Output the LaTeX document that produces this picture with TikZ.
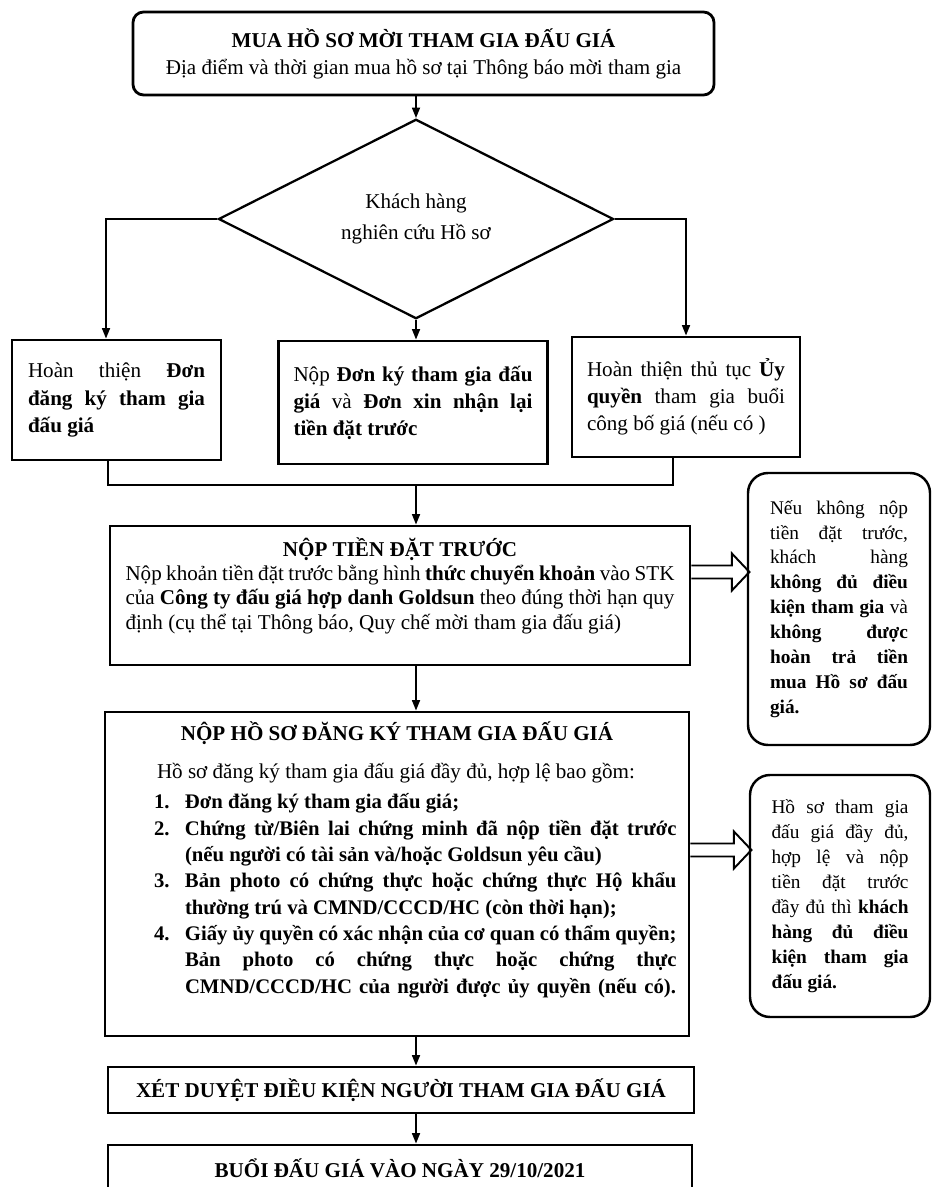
\documentclass[tikz,border=0pt]{standalone}
\usepackage{fontspec}
\setmainfont{Liberation Serif}
\usetikzlibrary{positioning, arrows.meta, shapes.geometric}
\tolerance=10000
\hbadness=10000

% one numbered line of the dossier list, with hanging indent
\newcommand{\hsitem}[2]{\par\noindent\hangindent=1.35cm\hangafter=1\hspace*{0.73cm}\makebox[0.62cm][l]{\textbf{#1}}\textbf{#2}}

\begin{document}
\begin{tikzpicture}[
  font=\fontsize{12}{15.4}\selectfont,
  blk/.style={rectangle, draw, line width=1.6pt, inner xsep=0.3cm, inner ysep=0pt},
  rblk/.style={blk, rounded corners=6pt, align=center},
  txtblk/.style={blk, align=justify},
  note/.style={rectangle, draw, line width=1.4pt, rounded corners=0.4cm, align=justify,
               inner sep=0pt, font=\fontsize{11}{14.2}\selectfont},
  arr/.style={-{Triangle[length=6pt,width=4.5pt]}, line width=1.1pt},
  link/.style={line width=1.5pt},
  hollow/.pic={\draw[line width=1.1pt, line join=miter]
     (0,0.13) -- ({#1-0.35},0.13) -- ({#1-0.35},0.37) -- (#1,0)
     -- ({#1-0.35},-0.37) -- ({#1-0.35},-0.13) -- (0,-0.13);},
]
\useasboundingbox (0,0) rectangle (18.64,-23.74);
\clip (0,0) rectangle (18.64,-23.74);

% ---- Top of the flow ----
\node[rblk, minimum width=11.62cm, minimum height=1.66cm] (buy) at (8.47,-1.07)
   {\textbf{MUA HỒ SƠ MỜI THAM GIA ĐẤU GIÁ}\\Địa điểm và thời gian mua hồ sơ tại Thông báo mời tham gia};

\node[diamond, draw, line width=1.3pt, minimum width=7.9cm, minimum height=2.98cm,
      inner sep=0pt, align=center] (dia) at (8.32,-4.38)
   {Khách hàng\\[2pt]nghiên cứu Hồ sơ};

% ---- Three options ----
\node[txtblk, minimum width=4.18cm, minimum height=2.4cm, text width=3.54cm] (b1) at (2.33,-8.0)
   {Hoàn thiện \textbf{Đơn}\linebreak \textbf{đăng ký tham gia}\linebreak \textbf{đấu giá}};
\node[txtblk, minimum width=5.36cm, minimum height=2.46cm, text width=4.78cm] (b2) at (8.26,-8.05)
   {Nộp \textbf{Đơn ký tham gia đấu}\linebreak \textbf{giá} và \textbf{Đơn xin nhận lại}\linebreak \textbf{tiền đặt trước}};
\node[txtblk, minimum width=4.56cm, minimum height=2.4cm, text width=3.96cm] (b3) at (13.72,-7.94)
   {Hoàn thiện thủ tục \textbf{Ủy}\linebreak \textbf{quyền} tham gia buổi\linebreak công bố giá (nếu có )};

% ---- Deposit ----
\node[txtblk, minimum width=11.6cm, minimum height=2.78cm, text width=10.98cm,
      font=\fontsize{12}{13.8}\selectfont] (tien) at (8.0,-11.91)
   {{\centering\textbf{NỘP TIỀN ĐẶT TRƯỚC}\par}
    Nộp khoản tiền đặt trước bằng hình \textbf{thức chuyển khoản} vào STK\linebreak
    của \textbf{Công ty đấu giá hợp danh Goldsun} theo đúng thời hạn quy\linebreak
    định (cụ thể tại Thông báo, Quy chế mời tham gia đấu giá)\par\rule{0pt}{1pt}};

% ---- Dossier ----
\node[txtblk, minimum width=11.68cm, minimum height=6.48cm, text width=11.18cm, inner xsep=0.25cm,
      font=\fontsize{12}{15}\selectfont] (hoso) at (7.94,-17.48)
   {{\centering\textbf{NỘP HỒ SƠ ĐĂNG KÝ THAM GIA ĐẤU GIÁ}\par}\vspace{7pt}
    \hspace*{0.79cm}Hồ sơ đăng ký tham gia đấu giá đầy đủ, hợp lệ bao gồm:\par\vspace{2pt}
    \fontsize{11.8}{15}\selectfont
    \hsitem{1.}{Đơn đăng ký tham gia đấu giá;}
    \hsitem{2.}{Chứng từ/Biên lai chứng minh đã nộp tiền đặt trước\linebreak (nếu người có tài sản và/hoặc Goldsun yêu cầu)}
    \hsitem{3.}{Bản photo có chứng thực hoặc chứng thực Hộ khẩu\linebreak thường trú và CMND/CCCD/HC (còn thời hạn);}
    \hsitem{4.}{Giấy ủy quyền có xác nhận của cơ quan có thẩm quyền;\linebreak Bản photo có chứng thực hoặc chứng thực\linebreak
      \makebox[9.82cm][s]{CMND/CCCD/HC của người được ủy quyền (nếu có).}}
    \par\vspace{4pt}\rule{0pt}{1pt}};

% ---- Review and auction ----
\node[blk, minimum width=11.72cm, minimum height=0.92cm] (xet) at (8.02,-21.8)
   {\textbf{XÉT DUYỆT ĐIỀU KIỆN NGƯỜI THAM GIA ĐẤU GIÁ}};
\node[blk, minimum width=11.68cm, minimum height=0.92cm] (buoi) at (8.0,-23.36)
   {\textbf{BUỔI ĐẤU GIÁ VÀO NGÀY 29/10/2021}};

% ---- Side notes ----
\node[note, minimum width=3.64cm, minimum height=5.44cm, text width=2.76cm] (warn) at (16.78,-12.18)
   {Nếu không nộp\linebreak tiền đặt trước,\linebreak khách hàng\linebreak
    \textbf{không đủ điều}\linebreak \textbf{kiện tham gia} và\linebreak
    \textbf{không được}\linebreak \textbf{hoàn trả tiền}\linebreak \textbf{mua Hồ sơ đấu}\linebreak \textbf{giá.}};
\node[note, minimum width=3.6cm, minimum height=4.84cm, text width=2.74cm] (okay) at (16.8,-17.92)
   {Hồ sơ tham gia\linebreak đấu giá đầy đủ,\linebreak hợp lệ và nộp\linebreak tiền đặt trước\linebreak
    đầy đủ thì \textbf{khách}\linebreak \textbf{hàng đủ điều}\linebreak \textbf{kiện tham gia}\linebreak \textbf{đấu giá.}};

% ---- Connectors ----
\coordinate (join) at (8.32,-9.7);
\draw[arr] (buy.south -| dia.north) -- (dia.north);
\draw[arr] (dia.west) -| ([xshift=-0.21cm]b1.north);
\draw[arr] (dia.south) -- (dia.south |- b2.north);
\draw[arr] (dia.east) -| (b3.north);
\draw[link] ([xshift=-0.17cm]b1.south) |- (join) -| ([xshift=-0.26cm]b3.south);
\draw[arr] (join) -- (join |- tien.north);
\draw[arr] (tien.south -| join) -- (hoso.north -| join);
\draw[arr] (hoso.south -| join) -- (xet.north -| join);
\draw[arr] (xet.south -| join) -- (buoi.north -| join);
\pic at (tien.east |- 0,-11.44) {hollow=1.16};
\pic at (hoso.east |- 0,-17.0) {hollow=1.22};

\end{tikzpicture}
\end{document}
